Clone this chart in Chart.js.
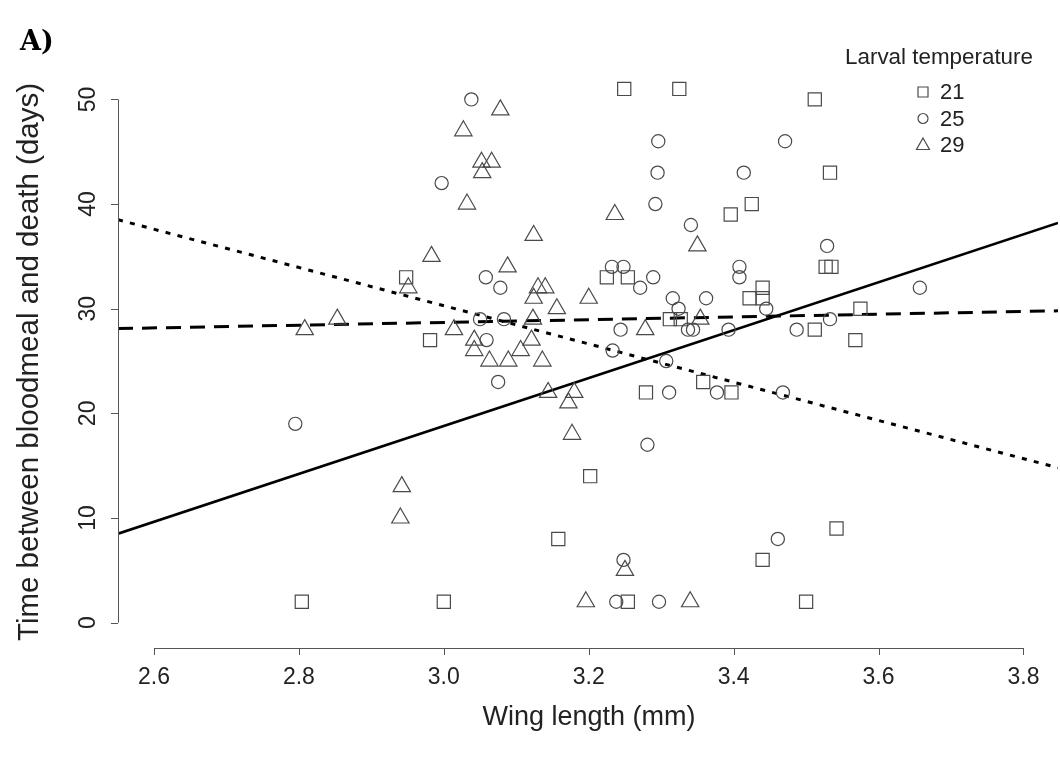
<!DOCTYPE html>
<html>
<head>
<meta charset="utf-8">
<script src="https://cdn.jsdelivr.net/npm/chart.js"></script>
<style>
  html, body { margin: 0; padding: 0; background: #fff; }
  #wrap { width: 1060px; height: 760px; }
</style>
</head>
<body>
<div id="wrap"><canvas id="wingChart" width="1060" height="760"></canvas></div>
<script>
// Larval temperature 21 (squares)
const wing21 = [3.249, 3.325, 3.512, 3.533, 3.425, 3.396, 3.225, 3.254, 3.527, 3.535, 3.422, 3.440, 3.440, 3.312, 3.327, 3.512, 3.575, 3.568, 3.279, 3.358, 3.397, 2.948, 2.981, 2.804, 3.000, 3.202, 3.158, 3.254, 3.440, 3.500, 3.542];
const days21 = [51, 51, 50, 43, 40, 39, 33, 33, 34, 34, 31, 31, 32, 29, 29, 28, 30, 27, 22, 23, 22, 33, 27, 2, 2, 14, 8, 2, 6, 2, 9];

// Larval temperature 25 (circles)
const wing25 = [3.038, 2.997, 3.058, 3.078, 3.296, 3.471, 3.295, 3.414, 3.292, 3.341, 3.529, 3.232, 3.248, 3.289, 3.408, 3.408, 3.271, 3.316, 3.324, 3.362, 3.445, 3.244, 3.337, 3.344, 3.393, 3.487, 3.533, 3.657, 3.233, 3.307, 3.311, 3.377, 3.468, 3.281, 3.050, 3.083, 3.059, 3.075, 2.795, 3.248, 3.238, 3.297, 3.461];
const days25 = [50, 42, 33, 32, 46, 46, 43, 43, 40, 38, 36, 34, 34, 33, 34, 33, 32, 31, 30, 31, 30, 28, 28, 28, 28, 28, 29, 32, 26, 25, 22, 22, 22, 17, 29, 29, 27, 23, 19, 6, 2, 2, 8];

// Larval temperature 29 (triangles)
const wing29 = [3.078, 3.027, 3.052, 3.066, 3.053, 3.032, 3.124, 2.983, 3.088, 3.236, 3.350, 2.951, 3.130, 3.140, 3.124, 3.156, 3.200, 3.123, 3.014, 3.042, 3.042, 3.121, 3.106, 3.063, 3.089, 3.136, 3.144, 3.180, 3.172, 3.177, 2.808, 2.853, 3.278, 3.354, 2.942, 2.940, 3.196, 3.250, 3.340];
const days29 = [49, 47, 44, 44, 43, 40, 37, 35, 34, 39, 36, 32, 32, 32, 31, 30, 31, 29, 28, 27, 26, 27, 26, 25, 25, 25, 22, 22, 21, 18, 28, 29, 28, 29, 13, 10, 2, 5, 2];

// fitted lines, end points read at the plot edges
const fitWing = [2.5503, 3.8477];
const fit21 = [8.5, 38.2];
const fit25 = [28.1, 29.8];
const fit29 = [38.5, 14.8];

const groupLabels = ['21', '25', '29'];
const xTicks = [2.6, 2.8, 3.0, 3.2, 3.4, 3.6, 3.8];
const yTicks = [0, 10, 20, 30, 40, 50];

function toPoints(xs, ys) {
    return xs.map(function(x, i) { return { x: x, y: ys[i] }; });
}

const pointColor = '#4a4a4a';

// Draws R style axes, titles and the legend
const baseAxes = {
    id: 'baseAxes',
    afterDraw: function(chart) {
        const ctx = chart.ctx;
        const xs = chart.scales.x;
        const ys = chart.scales.y;
        const area = chart.chartArea;
        ctx.save();
        ctx.strokeStyle = '#555';
        ctx.lineWidth = 1;
        ctx.fillStyle = '#222';

        // x axis
        const y0 = area.bottom;
        ctx.beginPath();
        ctx.moveTo(xs.getPixelForValue(xTicks[0]), y0 + 0.5);
        ctx.lineTo(xs.getPixelForValue(xTicks[xTicks.length - 1]), y0 + 0.5);
        xTicks.forEach(function(t) {
            const px = Math.round(xs.getPixelForValue(t)) + 0.5;
            ctx.moveTo(px, y0);
            ctx.lineTo(px, y0 + 7);
        });
        ctx.stroke();
        ctx.font = '23px "Liberation Sans", Arial, sans-serif';
        ctx.textAlign = 'center';
        ctx.textBaseline = 'middle';
        xTicks.forEach(function(t) {
            ctx.fillText(t.toFixed(1), xs.getPixelForValue(t), y0 + 30);
        });

        // y axis
        const x0 = area.left;
        ctx.beginPath();
        ctx.moveTo(x0 + 0.5, ys.getPixelForValue(yTicks[0]));
        ctx.lineTo(x0 + 0.5, ys.getPixelForValue(yTicks[yTicks.length - 1]));
        yTicks.forEach(function(t) {
            const py = Math.round(ys.getPixelForValue(t)) + 0.5;
            ctx.moveTo(x0, py);
            ctx.lineTo(x0 - 7, py);
        });
        ctx.stroke();
        yTicks.forEach(function(t) {
            ctx.save();
            ctx.translate(x0 - 29, ys.getPixelForValue(t));
            ctx.rotate(-Math.PI / 2);
            ctx.fillText(String(t), 0, 0);
            ctx.restore();
        });

        // axis titles
        ctx.font = '27px "Liberation Sans", Arial, sans-serif';
        ctx.fillText('Wing length (mm)', 589, 718);
        ctx.save();
        ctx.translate(30, 362);
        ctx.rotate(-Math.PI / 2);
        ctx.font = '29.5px "Liberation Sans", Arial, sans-serif';
        ctx.fillText('Time between bloodmeal and death (days)', 0, 0);
        ctx.restore();

        // panel tag
        ctx.font = 'bold 27px "DejaVu Serif", "Liberation Serif", serif';
        ctx.textAlign = 'left';
        ctx.fillStyle = '#000';
        ctx.fillText('A)', 20, 43);

        // legend
        ctx.fillStyle = '#222';
        ctx.font = '22.4px "Liberation Sans", Arial, sans-serif';
        ctx.textAlign = 'center';
        ctx.fillText('Larval temperature', 939, 58);
        ctx.textAlign = 'left';
        ctx.font = '22px "Liberation Sans", Arial, sans-serif';
        ctx.strokeStyle = pointColor;
        ctx.lineWidth = 1.2;
        const styles = ['rect', 'circle', 'triangle'];
        groupLabels.forEach(function(lab, i) {
            const cy = 92 + i * 26.5;
            const cx = 923;
            ctx.beginPath();
            if (styles[i] === 'rect') {
                ctx.rect(cx - 5, cy - 5, 10, 10);
            } else if (styles[i] === 'circle') {
                ctx.arc(cx, cy, 5, 0, Math.PI * 2);
            } else {
                ctx.moveTo(cx, cy - 7);
                ctx.lineTo(cx + 6.5, cy + 4.5);
                ctx.lineTo(cx - 6.5, cy + 4.5);
                ctx.closePath();
            }
            ctx.stroke();
            ctx.fillText(lab, 940, cy + 1);
        });
        ctx.restore();
    }
};

const ctx = document.getElementById('wingChart').getContext('2d');
new Chart(ctx, {
    type: 'scatter',
    data: {
        datasets: [{
            label: '21',
            data: toPoints(wing21, days21),
            pointStyle: 'rect',
            pointRadius: 9.3,
            borderColor: pointColor,
            backgroundColor: 'rgba(0,0,0,0)',
            borderWidth: 1.2
        }, {
            label: '25',
            data: toPoints(wing25, days25),
            pointStyle: 'circle',
            pointRadius: 6.6,
            borderColor: pointColor,
            backgroundColor: 'rgba(0,0,0,0)',
            borderWidth: 1.2
        }, {
            label: '29',
            data: toPoints(wing29, days29),
            pointStyle: 'triangle',
            pointRadius: 10,
            borderColor: pointColor,
            backgroundColor: 'rgba(0,0,0,0)',
            borderWidth: 1.2
        }, {
            label: 'fit 21',
            type: 'line',
            data: toPoints(fitWing, fit21),
            borderColor: '#000',
            borderWidth: 2.6,
            pointRadius: 0,
            fill: false
        }, {
            label: 'fit 25',
            type: 'line',
            data: toPoints(fitWing, fit25),
            borderColor: '#000',
            borderWidth: 3,
            borderDash: [15, 9],
            pointRadius: 0,
            fill: false
        }, {
            label: 'fit 29',
            type: 'line',
            data: toPoints(fitWing, fit29),
            borderColor: '#000',
            borderWidth: 3,
            borderDash: [5, 7.3],
            pointRadius: 0,
            fill: false
        }]
    },
    options: {
        responsive: false,
        animation: false,
        devicePixelRatio: 1,
        layout: { autoPadding: false, padding: { left: 118, right: 2, top: 68, bottom: 112 } },
        plugins: {
            legend: { display: false },
            tooltip: { enabled: false }
        },
        scales: {
            x: { type: 'linear', min: 2.5503, max: 3.8477, display: false },
            y: { type: 'linear', min: -2.42, max: 53, display: false }
        }
    },
    plugins: [baseAxes]
});
</script>
</body>
</html>
